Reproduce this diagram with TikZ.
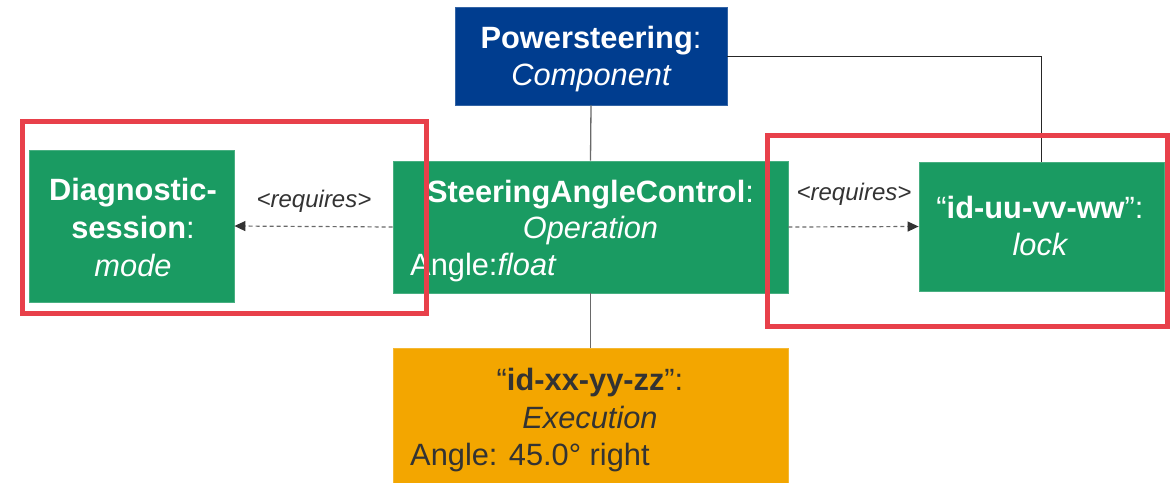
\documentclass[tikz,border=0pt]{standalone}
\usepackage{fontspec}
\setmainfont{Liberation Sans}
\usetikzlibrary{arrows.meta}
\definecolor{psblue}{RGB}{0,61,143}
\definecolor{psgreen}{RGB}{26,155,98}
\definecolor{psorange}{RGB}{243,166,0}
\definecolor{psred}{RGB}{232,64,74}
\definecolor{psdark}{RGB}{51,51,51}
\definecolor{psgray}{RGB}{105,105,105}
\begin{document}
\begin{tikzpicture}[x=1pt,y=-1pt,
  box/.style={draw=#1!80!white, fill=#1, line width=0.8pt, inner sep=0, rectangle},
  wt/.style={font=\fontsize{30.8}{37}\selectfont, text=white, inner sep=0},
  dt/.style={font=\fontsize{30.8}{37}\selectfont, text=psdark, inner sep=0},
  reqlabel/.style={font=\fontsize{24}{28}\selectfont\itshape, text=psdark, inner sep=0, anchor=base},
  solidlink/.style={draw=psgray, line width=1.3pt},
  thinlink/.style={draw=black!85, line width=0.9pt},
  reqarrow/.style={draw=psgray, line width=1.2pt, dash pattern=on 4pt off 3pt,
    -{Triangle[length=11pt,width=10pt,fill=psdark,color=psdark]}},
  redframe/.style={draw=psred, line width=5pt}
]
\useasboundingbox (0,0) rectangle (1174,482);

% boxes
\node[box=psblue, minimum width=272pt, minimum height=98pt] (ps) at (591,56) {};
\node[box=psgreen, minimum width=395pt, minimum height=132pt] (sac) at (590.5,227) {};
\node[box=psgreen, minimum width=205pt, minimum height=152pt] (diag) at (131.5,226) {};
\node[box=psgreen, minimum width=245pt, minimum height=129pt] (lock) at (1041.5,226.5) {};
\node[box=psorange, minimum width=395pt, minimum height=136pt] (exec) at (590.5,416) {};

% texts
\node[wt, anchor=base] (ps1) at (591,48) {\textbf{Powersteering}:};
\node[wt, anchor=base] (ps2) at (591,85) {\itshape Component};

\node[wt, anchor=base] (sac1) at (590.5,202) {\textbf{SteeringAngleControl}:};
\node[wt, anchor=base] (sac2) at (590.5,238) {\itshape Operation};
\node[wt, anchor=base west] (sac3) at (410,275) {Angle:\textit{float}};

\node[wt, anchor=base] (diag1) at (133,200) {\textbf{Diagnostic-}};
\node[wt, anchor=base] (diag2) at (133,238) {\textbf{session}:};
\node[wt, anchor=base] (diag3) at (133,276) {\itshape mode};

\node[wt, anchor=base] (lock1) at (1040,218) {“\textbf{id-uu-vv-ww}”:};
\node[wt, anchor=base] (lock2) at (1040,255) {\itshape lock};

\node[dt, anchor=base] (exec1) at (590,390) {“\textbf{id-xx-yy-zz}”:};
\node[dt, anchor=base] (exec2) at (590,428) {\itshape Execution};
\node[dt, anchor=base west] (exec3) at (410,465) {Angle: 45.0° right};

% connectors
\draw[solidlink] (ps.south) -- (sac.north);
\draw[solidlink] (sac.south) -- (exec.north);
\draw[thinlink] (ps.east) -| (lock.north);
\draw[reqarrow] (sac.west) -- (diag.east);
\draw[reqarrow] (sac.east) -- (lock.west);
\node[reqlabel] (req1) at (314,207) {<requires>};
\node[reqlabel] (req2) at (854,200) {<requires>};

% highlight frames
\draw[redframe] (22,121) rectangle (426,313);
\draw[redframe] (767,135) rectangle (1167,326);
\end{tikzpicture}
\end{document}
